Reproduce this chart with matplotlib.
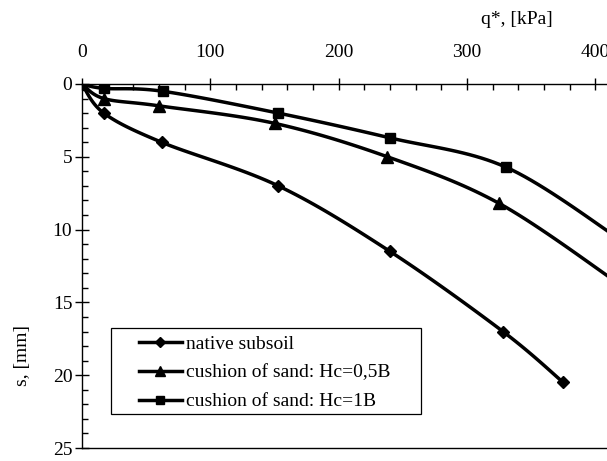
import numpy as np
import matplotlib

matplotlib.use("Agg")
import matplotlib.pyplot as plt
from matplotlib.patches import Rectangle
from matplotlib.ticker import MultipleLocator

plt.rcParams["font.family"] = ["Liberation Serif", "DejaVu Serif"]

# load q* [kPa] vs settlement s [mm]; last points of the sand series lie past the axis edge
q_native = [0, 17, 62, 153, 240, 328, 375]
s_native = [0, 2.0, 4.0, 7.0, 11.5, 17.0, 20.5]

q_half = [0, 17, 60, 150, 238, 325, 418]
s_half = [0, 1.0, 1.5, 2.7, 5.0, 8.2, 13.7]

q_full = [0, 17, 63, 153, 240, 330, 418]
s_full = [0, 0.3, 0.5, 2.0, 3.7, 5.7, 10.6]

labels = ["native subsoil", "cushion of sand: Hc=0,5B", "cushion of sand: Hc=1B"]
markers = ["D", "^", "s"]

W, H = 607, 461


def smooth(x, y, n=20):
    """Catmull-Rom curve through the points (like Excel's smoothed line)."""
    p = np.column_stack([x, y]).astype(float)
    p = np.vstack([p[0], p, p[-1]])
    out = []
    t = np.linspace(0, 1, n)[:, None]
    for i in range(1, len(p) - 2):
        p0, p1, p2, p3 = p[i - 1], p[i], p[i + 1], p[i + 2]
        seg = 0.5 * ((2 * p1) + (-p0 + p2) * t
                     + (2 * p0 - 5 * p1 + 4 * p2 - p3) * t ** 2
                     + (-p0 + 3 * p1 - 3 * p2 + p3) * t ** 3)
        out.append(seg)
    c = np.vstack(out)
    return c[:, 0], c[:, 1]


fig = plt.figure(figsize=(W / 100, H / 100), dpi=100)
ax = fig.add_axes([82 / W, 1 - 448 / H, 1 - 82 / W + 0.002, (448 - 84) / H])

series = [(q_native, s_native), (q_half, s_half), (q_full, s_full)]
msizes = [6, 8, 7]
for (q, s), m, lab, ms in zip(series, markers, labels, msizes):
    sx, sy = smooth(q, s)
    ax.plot(sx, sy, color="black", lw=2.5)
    ax.plot(q, s, linestyle="none", marker=m, color="black", ms=ms)
    ax.plot([], [], color="black", lw=2.5, marker=m, ms=ms - 1, label=lab)

ax.set_xlim(0, 410)
ax.set_ylim(25, 0)
ax.xaxis.tick_top()
ax.xaxis.set_major_locator(MultipleLocator(100))
ax.xaxis.set_minor_locator(MultipleLocator(20))
ax.yaxis.set_major_locator(MultipleLocator(5))
ax.yaxis.set_minor_locator(MultipleLocator(1))
ax.tick_params(axis="x", which="major", direction="inout", length=9, width=1, labelsize=14, pad=12)
ax.tick_params(axis="x", which="minor", direction="in", length=4, width=1)
ax.tick_params(axis="y", which="major", direction="inout", length=10, width=1, labelsize=14, pad=2)
ax.tick_params(axis="y", which="minor", direction="in", length=4, width=1)

ax.spines["right"].set_visible(False)
for sp in ["top", "left", "bottom"]:
    ax.spines[sp].set_linewidth(1)

fig.text(517 / W, 1 - 19 / H, "q*, [kPa]", fontsize=14, ha="center", va="center")
fig.text(22 / W, 1 - 355 / H, "s, [mm]", fontsize=14, rotation=90, ha="center", va="center")

# legend entries without frame, box drawn separately (wide left margin as in the original)
leg = ax.legend(loc="upper left", bbox_to_anchor=(139 / W, 1 - 335 / H),
                bbox_transform=fig.transFigure, fontsize=14, frameon=False,
                handlelength=2.2, handletextpad=0.2, borderpad=0, borderaxespad=0,
                labelspacing=0.58)
fig.add_artist(Rectangle((111 / W, 1 - 414 / H), (421 - 111) / W, (414 - 328) / H,
                         transform=fig.transFigure, fill=False, edgecolor="black", lw=0.9))

fig.savefig("out.png", dpi=100)
